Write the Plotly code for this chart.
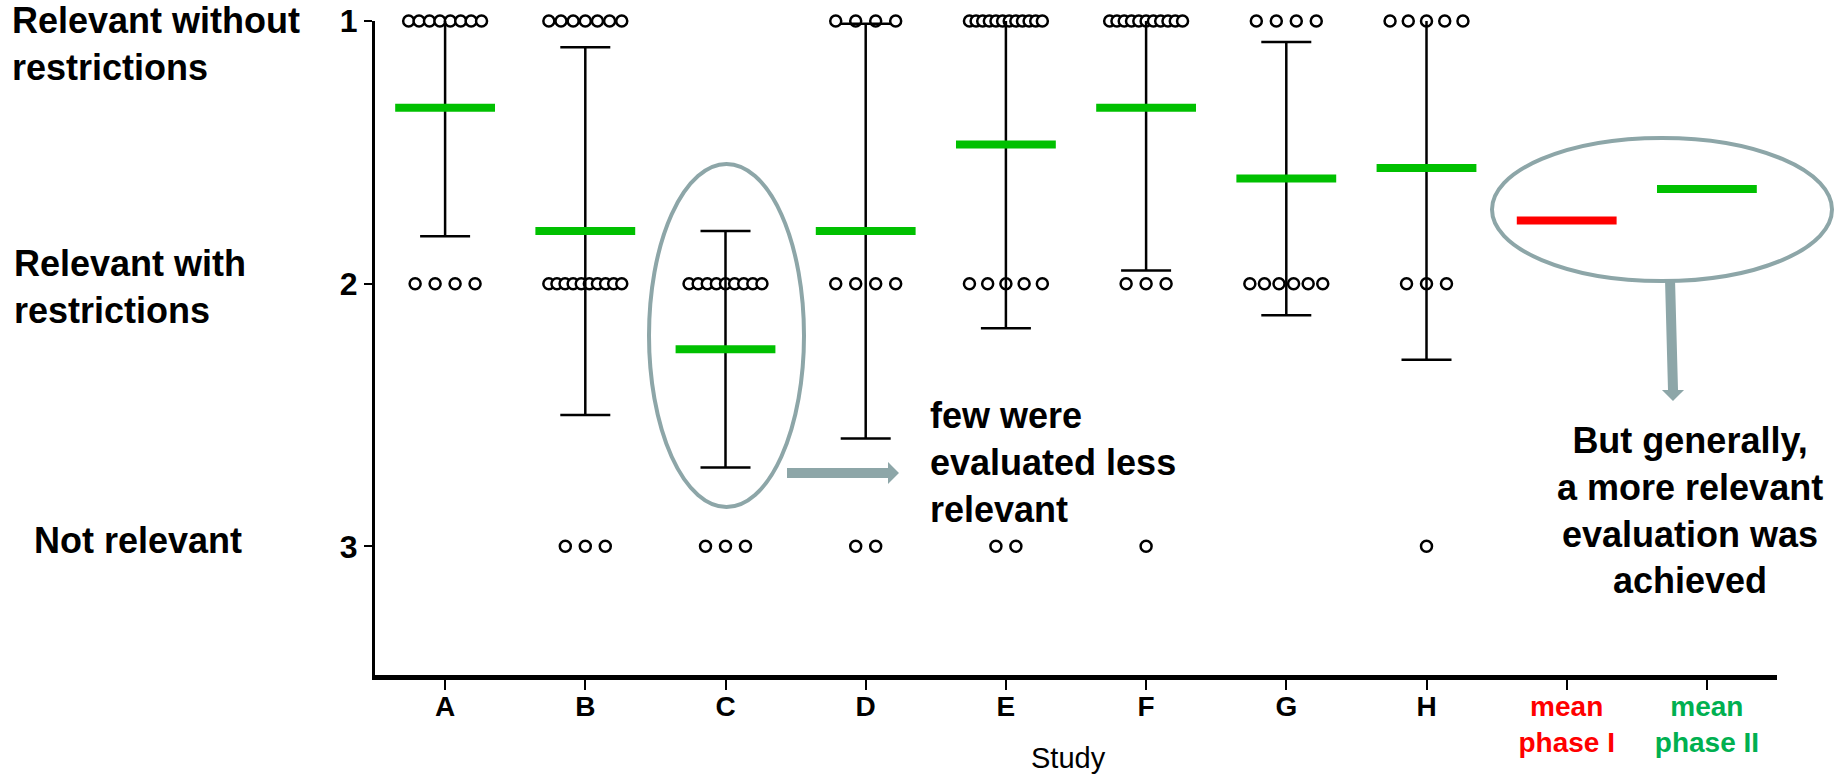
import plotly.graph_objects as go

# ---------------- data ----------------
studies = ["A", "B", "C", "D", "E", "F", "G", "H"]
phase_names = ["mean phase I", "mean phase II"]
count_level1 = [8, 7, 0, 4, 12, 11, 4, 5]    # answers "1" per study
count_level2 = [4, 10, 9, 4, 5, 3, 6, 3]     # answers "2" per study
count_level3 = [0, 3, 3, 2, 2, 1, 0, 1]      # answers "3" per study
study_means = [1.33, 1.80, 2.25, 1.80, 1.47, 1.33, 1.60, 1.56]
study_sds = [0.49, 0.70, 0.45, 0.79, 0.70, 0.62, 0.52, 0.73]
phase_means = [1.76, 1.64]
ytick_vals = [1, 2, 3]
ytick_text = ["1", "2", "3"]
level_names = ["Relevant without<br>restrictions", "Relevant with<br>restrictions", "Not relevant"]

# ---------------- layout geometry (pixels) ----------------
W, H = 1836, 774
L, R, T, B = 375, 1777, 21, 675
def px(x):
    return (x - L) / (R - L)
def py(y):
    return (B - y) / (B - T)

FONT = "Liberation Sans, Arial, sans-serif"
GREEN = "#00C000"
RED = "#FF0000"
GREY = "#8DA6A8"

# ---------------- build point columns ----------------
pt_x, pt_y = [], []
for i in range(len(studies)):
    for level, counts in zip(ytick_vals, [count_level1, count_level2, count_level3]):
        n = counts[i]
        if n == 0:
            continue
        step = 0.1425 if n < 2 else min(0.1425, 0.52 / (n - 1))
        for k in range(n):
            pt_x.append(i + (k - (n - 1) / 2) * step)
            pt_y.append(level)

fig = go.Figure()

fig.add_trace(go.Scatter(
    x=pt_x, y=pt_y, mode="markers", cliponaxis=False,
    marker=dict(symbol="circle", size=11, color="white",
                line=dict(color="black", width=2.5)),
    showlegend=False, hoverinfo="skip"))

fig.add_trace(go.Scatter(
    x=list(range(len(studies))), y=study_means, mode="markers",
    marker=dict(size=1, color="rgba(0,0,0,0)"),
    error_y=dict(type="data", array=study_sds, visible=True,
                 color="black", thickness=2.5, width=25),
    showlegend=False, hoverinfo="skip"))

HW = 0.356
mx, my = [], []
for i, m in enumerate(study_means):
    mx += [i - HW, i + HW, None]
    my += [m, m, None]
fig.add_trace(go.Scatter(x=mx, y=my, mode="lines", cliponaxis=False,
                         line=dict(color=GREEN, width=8),
                         showlegend=False, hoverinfo="skip"))

n_s = len(studies)
for j, (m, c) in enumerate(zip(phase_means, [RED, GREEN])):
    fig.add_trace(go.Scatter(x=[n_s + j - HW, n_s + j + HW], y=[m, m], mode="lines",
                             line=dict(color=c, width=8),
                             showlegend=False, hoverinfo="skip"))

ticktext = studies + [
    "<span style='color:#FF0000'>mean</span><br><span style='color:#FF0000'>phase I</span>",
    "<span style='color:#00B050'>mean</span><br><span style='color:#00B050'>phase II</span>",
]

fig.update_layout(
    width=W, height=H,
    margin=dict(l=L, r=W - R, t=T, b=H - B, autoexpand=False),
    paper_bgcolor="white", plot_bgcolor="white",
    font=dict(family=FONT, color="black"),
    xaxis=dict(range=[-0.5, n_s + 1.5], tickmode="array", automargin=False,
               tickvals=list(range(n_s + 2)), ticktext=ticktext,
               ticks="outside", ticklen=10, tickwidth=2, tickcolor="black",
               ticklabelstandoff=-8,
               showline=True, linewidth=5, linecolor="black",
               showgrid=False, zeroline=False,
               tickfont=dict(family=FONT, size=28, color="black", weight="bold")),
    yaxis=dict(range=[3.49, 1], tickmode="array", tickvals=ytick_vals, ticktext=ytick_text,
               automargin=False,
               ticks="outside", ticklen=8, tickwidth=2, tickcolor="black",
               showline=True, linewidth=3, linecolor="black",
               showgrid=False, zeroline=False,
               tickfont=dict(family=FONT, size=32, color="black", weight="bold")),
)

annots = []
# y category labels
for text, lx, cy in zip(level_names, [10, 12, 32], [44, 287, 540]):
    annots.append(dict(x=px(lx), y=py(cy), xref="paper", yref="paper", text=text,
                       showarrow=False, xanchor="left", yanchor="middle", align="left",
                       font=dict(family=FONT, size=36, color="black", weight="bold")))
annots.append(dict(x=px(928), y=py(462), xref="paper", yref="paper",
                   text="few were<br>evaluated less<br>relevant", showarrow=False,
                   xanchor="left", yanchor="middle", align="left",
                   font=dict(family=FONT, size=36, color="black", weight="bold")))
annots.append(dict(x=px(1690), y=py(510), xref="paper", yref="paper",
                   text="But generally,<br>a more relevant<br>evaluation was<br>achieved",
                   showarrow=False, xanchor="center", yanchor="middle", align="center",
                   font=dict(family=FONT, size=36, color="black", weight="bold")))
annots.append(dict(x=px(1068), y=py(758), xref="paper", yref="paper", text="Study",
                   showarrow=False, xanchor="center", yanchor="middle",
                   font=dict(family=FONT, size=29, color="black")))
fig.update_layout(annotations=annots)

def poly(points):
    return "M " + " L ".join(f"{px(a):.5f},{py(b):.5f}" for a, b in points) + " Z"

shapes = [
    dict(type="circle", xref="paper", yref="paper", x0=px(649), x1=px(804),
         y0=py(507), y1=py(164), line=dict(color=GREY, width=4)),
    dict(type="circle", xref="paper", yref="paper", x0=px(1492), x1=px(1832),
         y0=py(281), y1=py(138), line=dict(color=GREY, width=4)),
    dict(type="path", xref="paper", yref="paper",
         path=poly([(787, 468), (888, 468), (888, 462), (899, 473), (888, 484), (888, 478), (787, 478)]),
         fillcolor=GREY, line=dict(width=0)),
    dict(type="path", xref="paper", yref="paper",
         path=poly([(1665, 279), (1675, 279), (1678, 390), (1684, 390), (1673, 401), (1662, 390), (1668, 390)]),
         fillcolor=GREY, line=dict(width=0)),
]
fig.update_layout(shapes=shapes)

fig.write_html("out.html",
               config={"displayModeBar": False},
               post_script="document.body.style.margin='0';document.body.style.padding='0';")
